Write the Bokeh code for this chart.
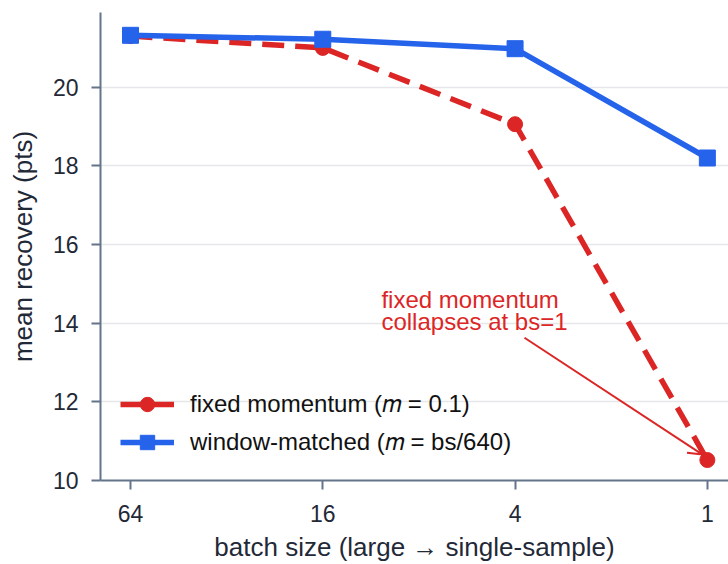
from bokeh.plotting import figure
from bokeh.models import Range1d, FixedTicker, Legend, LegendItem, Label, Arrow, OpenHead
from bokeh.embed import file_html
from bokeh.resources import INLINE

# ---- data ----
batch_sizes = ["64", "16", "4", "1"]
fixed_momentum = [21.30, 21.00, 19.06, 10.52]
window_matched = [21.32, 21.22, 20.98, 18.20]
y_ticks = [10, 12, 14, 16, 18, 20]
legend_labels = ["fixed momentum (𝑚 = 0.1)", "window-matched (𝑚 = bs/640)"]
note_lines = ["fixed momentum", "collapses at bs=1"]

# ---- style ----
RED = "#dc2626"
BLUE = "#2563eb"
AXIS = "#64748b"
TEXT = "#1f2937"
GRID = "#e5e7eb"
FONT = "Liberation Sans"

x_pos = list(range(len(batch_sizes)))

p = figure(width=728, height=564, output_backend="svg", toolbar_location=None,
           x_range=Range1d(-0.156, 3.11), y_range=Range1d(10, 21.9),
           min_border_left=100, min_border_right=0, min_border_top=12,
           min_border_bottom=83)
p.outline_line_color = None
p.background_fill_color = "white"
p.border_fill_color = "white"

p.xgrid.visible = False
p.ygrid.grid_line_color = GRID
p.ygrid.grid_line_width = 1.5

for ax in (p.xaxis[0], p.yaxis[0]):
    ax.axis_line_color = AXIS
    ax.axis_line_width = 2
    ax.major_tick_line_color = AXIS
    ax.major_tick_line_width = 2
    ax.major_tick_in = 0
    ax.major_tick_out = 9
    ax.minor_tick_line_color = None
    ax.major_label_text_font = FONT
    ax.major_label_text_font_size = "23px"
    ax.major_label_text_color = TEXT
    ax.axis_label_text_font = FONT
    ax.axis_label_text_font_size = "26px"
    ax.axis_label_text_font_style = "normal"
    ax.axis_label_text_color = TEXT

p.xaxis.ticker = FixedTicker(ticks=x_pos)
p.xaxis.major_label_overrides = {i: s for i, s in zip(x_pos, batch_sizes)}
p.xaxis.major_label_standoff = 15
p.xaxis.axis_label = "batch size (large → single-sample)"
p.xaxis.axis_label_standoff = 7

p.yaxis.ticker = FixedTicker(ticks=y_ticks)
p.yaxis.major_label_standoff = 13
p.yaxis.axis_label = "mean recovery (pts)"
p.yaxis.axis_label_standoff = 12

# ---- series ----
r_line = p.line(x_pos, fixed_momentum, line_color=RED, line_width=5.5, line_dash="22 11")
r_pts = p.scatter(x_pos, fixed_momentum, marker="circle", size=15, fill_color=RED, line_color=RED)
b_line = p.line(x_pos, window_matched, line_color=BLUE, line_width=5.5)
b_pts = p.scatter(x_pos, window_matched, marker="square", size=16, fill_color=BLUE, line_color=BLUE)

legend = Legend(items=[LegendItem(label=legend_labels[0], renderers=[r_line, r_pts]),
                       LegendItem(label=legend_labels[1], renderers=[b_line, b_pts])],
                location=(20, 20), padding=0, margin=0, spacing=2,
                glyph_width=54, glyph_height=36, label_height=28, label_standoff=16,
                background_fill_alpha=0, border_line_alpha=0,
                label_text_font=FONT, label_text_font_size="24px", label_text_color="#111111")
p.add_layout(legend)

# ---- annotation ----
NOTE_X, NOTE_Y1, NOTE_Y2 = 1.305, 14.59, 14.04
for txt, yy in zip(note_lines, (NOTE_Y1, NOTE_Y2)):
    p.add_layout(Label(x=NOTE_X, y=yy, text=txt, text_color=RED, text_font=FONT,
                       text_font_size="24px", text_baseline="alphabetic", text_align="left"))
p.add_layout(Arrow(end=OpenHead(size=14, line_color=RED, line_width=2),
                   x_start=2.049, y_start=13.63, x_end=2.975, y_end=10.66,
                   line_color=RED, line_width=2))

open("out.html", "w").write(file_html(p, INLINE))
